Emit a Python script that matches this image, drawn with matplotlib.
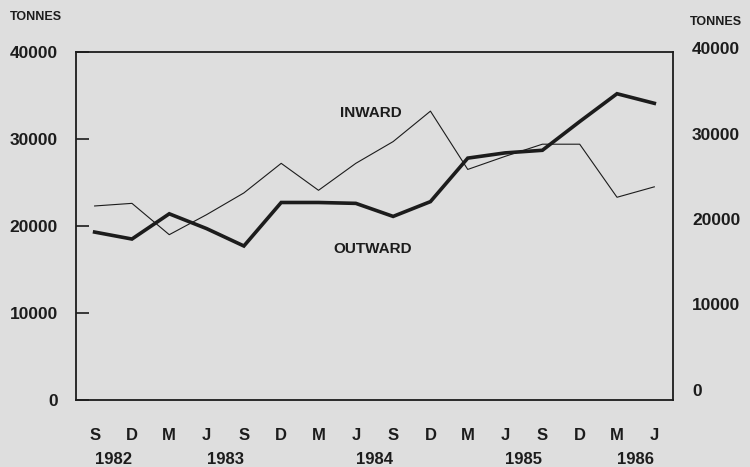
import matplotlib
matplotlib.use('Agg')
import matplotlib.pyplot as plt
import matplotlib.transforms as mtransforms

# quarterly freight, tonnes
months = ['S', 'D', 'M', 'J', 'S', 'D', 'M', 'J', 'S', 'D', 'M', 'J', 'S', 'D', 'M', 'J']
years = ['1982', '1983', '1984', '1985', '1986']
year_pos = [0.5, 3.5, 7.5, 11.5, 14.5]
inward = [22300, 22600, 19000, 21300, 23800, 27200, 24100, 27200, 29700, 33200,
          26500, 28000, 29400, 29400, 23300, 24500]
outward = [19300, 18500, 21400, 19700, 17700, 22700, 22700, 22600, 21100, 22800,
           27800, 28400, 28700, 32000, 35200, 34100]
left_ticks = [0, 10000, 20000, 30000, 40000]
right_ticks = [0, 10000, 20000, 30000, 40000]

bg = '#dedede'
ink = '#1c1c1c'
fnt = ['Liberation Sans Narrow', 'Liberation Sans', 'DejaVu Sans']
plt.rcParams['font.family'] = fnt

fig = plt.figure(figsize=(7.5, 4.67), dpi=100, facecolor=bg)
ax = fig.add_axes([0.1013, 0.1435, 0.796, 0.7452], facecolor=bg)

x = list(range(len(months)))
ax.plot(x, inward, color=ink, lw=0.8)
ax.plot(x, outward, color=ink, lw=2.6, solid_joinstyle='miter')

ax.set_xlim(-0.5, 15.5)
ax.set_ylim(0, 40000)

for s in ax.spines.values():
    s.set_color(ink)
    s.set_linewidth(1.3)

ax.set_yticks(left_ticks)
ax.set_yticklabels([str(v) for v in left_ticks], fontsize=12.5, fontweight='bold',
                   family='Liberation Sans', color=ink)
ax.tick_params(axis='y', direction='in', length=9, width=1.2, color=ink, pad=13)

ax.set_xticks(x)
ax.set_xticklabels(months, fontsize=12, fontweight='bold', color=ink)
ax.tick_params(axis='x', length=0, pad=20)

# year labels under the months
for yr, p in zip(years, year_pos):
    ax.text(p, -0.17, yr, transform=ax.get_xaxis_transform(), ha='center', va='center',
            fontsize=12, fontweight='bold', color=ink)

# right hand scale, drawn slightly compressed as in the original
off = mtransforms.blended_transform_factory(ax.transAxes, ax.transData)
for v in right_ticks:
    ax.text(1.032, 1030 + v * 0.98, str(v), transform=off, ha='left', va='center',
            fontsize=12.5, fontweight='bold', family='Liberation Sans', color=ink)

fig.text(10 / 750, 1 - 17 / 467, 'TONNES', ha='left', va='center', fontsize=9,
         fontweight='bold', color=ink)
fig.text(690 / 750, 1 - 22 / 467, 'TONNES', ha='left', va='center', fontsize=9,
         fontweight='bold', color=ink)

ax.text(7.4, 33000, 'INWARD', ha='center', va='center', fontsize=11,
        fontweight='bold', color=ink)
ax.text(7.45, 17400, 'OUTWARD', ha='center', va='center', fontsize=11,
        fontweight='bold', color=ink)

fig.savefig('out.png', dpi=100, facecolor=bg)
